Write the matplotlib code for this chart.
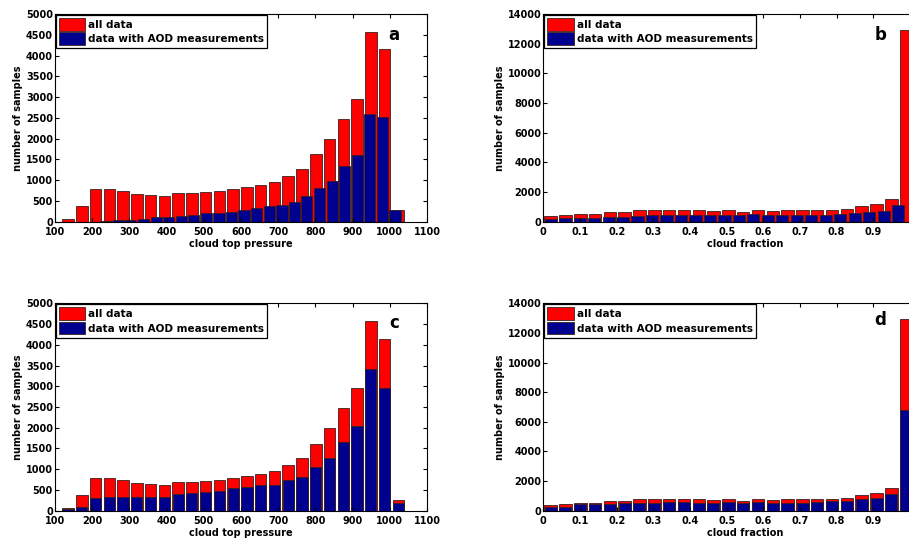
import matplotlib

matplotlib.use("Agg")

import matplotlib.pyplot as plt  # noqa: E402

plt.rcParams["font.family"] = ["DejaVu Sans"]
plt.rcParams["font.weight"] = "bold"

RED = "#ff0000"
BLUE = "#00008f"
EDGE = "#3a2020"

# cloud top pressure histograms (panels a, c)
ctp_centers = [135, 172, 209, 246, 283, 320, 357, 394, 431, 468, 505, 542, 579,
               616, 653, 690, 727, 764, 801, 838, 875, 912, 949, 986, 1023]
ctp_all = [60, 370, 790, 790, 740, 670, 640, 620, 700, 700, 720, 750, 780,
           830, 890, 950, 1100, 1270, 1620, 2000, 2480, 2950, 4570, 4150, 270]
# panel a: AOD subset binned on its own range
ctp_aod_centers_a = [237, 271, 304, 338, 372, 406, 439, 473, 507, 541, 575, 608,
                     642, 676, 710, 744, 777, 811, 845, 879, 913, 946, 980, 1014]
ctp_aod_a = [16, 32, 40, 72, 104, 104, 137, 169, 200, 200, 241, 289,
             337, 370, 400, 470, 620, 800, 970, 1330, 1600, 2600, 2530, 290]
# panel c: AOD subset on the same bins
ctp_aod_c = [30, 100, 305, 340, 340, 320, 340, 340, 400, 435, 450, 480, 540,
             580, 620, 620, 740, 820, 1045, 1270, 1665, 2050, 3415, 2950, 177]

# cloud fraction histograms (panels b, d)
cf_centers = [0.020, 0.060, 0.101, 0.141, 0.182, 0.222, 0.262, 0.303, 0.343,
              0.384, 0.424, 0.464, 0.505, 0.545, 0.586, 0.626, 0.666, 0.707,
              0.747, 0.788, 0.828, 0.868, 0.909, 0.949, 0.990]
cf_all = [400, 420, 520, 530, 640, 650, 760, 790, 790, 790, 760, 710, 790,
          650, 790, 710, 760, 760, 790, 790, 850, 1030, 1180, 1550, 12950]
cf_aod_centers_b = [0.020, 0.059, 0.099, 0.138, 0.178, 0.217, 0.257, 0.296,
                    0.336, 0.375, 0.415, 0.454, 0.494, 0.533, 0.573, 0.612,
                    0.652, 0.691, 0.731, 0.770, 0.810, 0.849, 0.889, 0.928, 0.967]
cf_aod_b = [180, 230, 270, 280, 320, 340, 380, 430, 460, 470, 450, 450, 470,
            450, 520, 450, 430, 430, 470, 470, 520, 560, 650, 750, 1100]
cf_aod_d = [270, 270, 420, 420, 440, 500, 540, 550, 580, 580, 540, 540, 590,
            540, 590, 530, 550, 550, 590, 660, 670, 760, 880, 1120, 6800]

cf_ticks = [0, 0.1, 0.2, 0.3, 0.4, 0.5, 0.6, 0.7, 0.8, 0.9, 1.0, 1.1]
cf_ticklabels = ["0", "0.1", "0.2", "0.3", "0.4", "0.5", "0.6", "0.7", "0.8",
                 "0.9", "", ""]  # 1.0 and beyond fall off the cropped figure

LABELS = ("all data", "data with AOD measurements")
FS = 7


def style_axes(ax):
    ax.tick_params(direction="in", top=True, right=True, labelsize=FS,
                   length=3, width=0.8)
    ax.tick_params(axis="x", pad=3.5)
    ax.tick_params(axis="y", pad=1.5)
    for s in ax.spines.values():
        s.set_linewidth(0.8)
    for lab in ax.get_xticklabels() + ax.get_yticklabels():
        lab.set_fontweight("bold")


def draw(ax, xr, yr, xb, yb, wr, wb, letter, lpos, xlabel):
    ax.bar(xr, yr, width=wr, color=RED, edgecolor=EDGE, linewidth=0.6,
           label=LABELS[0])
    ax.bar(xb, yb, width=wb, color=BLUE, edgecolor=EDGE, linewidth=0.6,
           label=LABELS[1])
    ax.set_xlabel(xlabel, fontsize=FS, fontweight="bold", labelpad=2)
    ax.set_ylabel("number of samples", fontsize=FS, fontweight="bold",
                  labelpad=2)
    ax.text(lpos[0], lpos[1], letter, fontsize=12, fontweight="bold",
            ha="center", va="center")
    leg = ax.legend(loc="upper left", fancybox=False, edgecolor="black",
                    framealpha=1, borderaxespad=0.1, borderpad=0.3,
                    labelspacing=0.15, handlelength=2.5, handleheight=1.5,
                    handletextpad=0.3, prop={"size": 7.5, "weight": "bold"})
    leg.get_frame().set_linewidth(0.9)


fig = plt.figure(figsize=(9.09, 5.41), dpi=100)

W, H = 909, 541
ax_a = fig.add_axes([55 / W, (H - 221.7) / H, 372 / W, 207.7 / H])
ax_c = fig.add_axes([55 / W, (H - 510.7) / H, 372 / W, 207.4 / H])
ax_b = fig.add_axes([543.3 / W, (H - 221.7) / H, 1.1 * 366.7 / W, 207.7 / H])
ax_d = fig.add_axes([543.3 / W, (H - 510.7) / H, 1.1 * 366.7 / W, 207.4 / H])

for ax, xb, yb, letter, ly in ((ax_a, ctp_aod_centers_a, ctp_aod_a, "a", 4500),
                               (ax_c, ctp_centers, ctp_aod_c, "c", 4530)):
    draw(ax, ctp_centers, ctp_all, xb, yb, 31, 30, letter, (1012, ly),
         "cloud top pressure")
    ax.set_xlim(100, 1100)
    ax.set_ylim(0, 5000)
    ax.set_xticks(range(100, 1101, 100))
    ax.set_yticks(range(0, 5001, 500))
    style_axes(ax)

for ax, xb, yb, letter, ly in ((ax_b, cf_aod_centers_b, cf_aod_b, "b", 12600),
                               (ax_d, cf_centers, cf_aod_d, "d", 12870)):
    draw(ax, cf_centers, cf_all, xb, yb, 0.034, 0.033, letter, (0.92, ly),
         "cloud fraction")
    ax.set_xlim(0, 1.1)
    ax.set_ylim(0, 14000)
    ax.set_xticks(cf_ticks)
    ax.set_xticklabels(cf_ticklabels)
    ax.set_yticks(range(0, 14001, 2000))
    style_axes(ax)

fig.savefig("out.png", dpi=100)
